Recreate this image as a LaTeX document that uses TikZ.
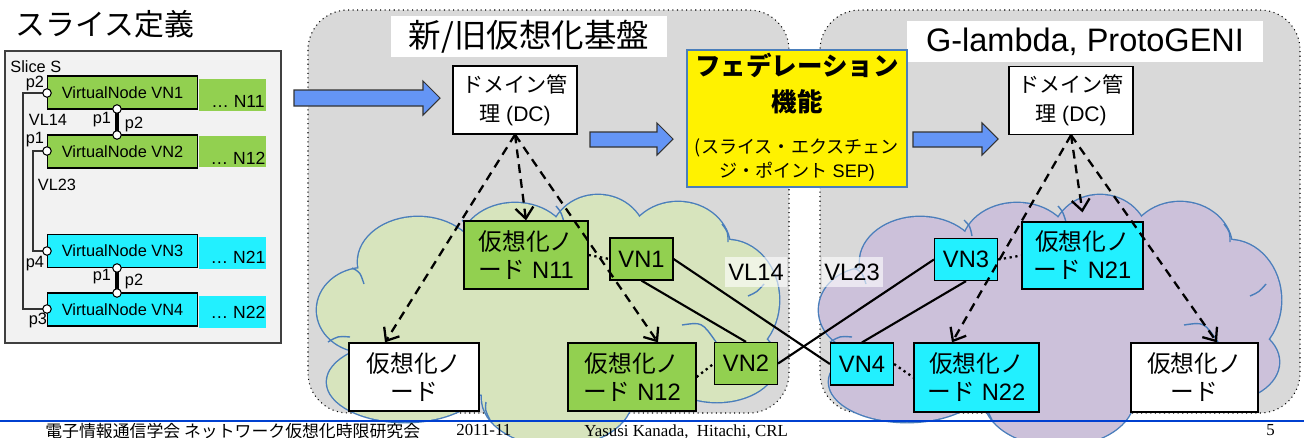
\documentclass[tikz,border=0pt]{standalone}
\usepackage{fontspec}
\setmainfont{Liberation Sans}
\newfontfamily\jp{Noto Sans CJK JP}
\newfontfamily\serif{Liberation Serif}
\usetikzlibrary{arrows.meta, calc}
\definecolor{vgreen}{HTML}{92D050}
\definecolor{vcyan}{HTML}{22F0FF}
\definecolor{cloudgreen}{HTML}{D7E4BD}
\definecolor{cloudpurple}{HTML}{CCC1DA}
\definecolor{cloudline}{HTML}{4A7EBB}
\definecolor{domgray}{HTML}{D9D9D9}
\definecolor{slicegray}{HTML}{F2F2F2}
\definecolor{arrblue}{HTML}{6495F5}
\definecolor{footline}{HTML}{0040D0}

\begin{document}
\begin{tikzpicture}[>=Stealth, x=0.02cm, y=-0.02cm,
	box/.style={draw, line width=0.7pt, align=center, inner sep=0pt, font=\fontsize{13.5}{16}\selectfont},
	vn/.style={box, minimum width=1.26cm, minimum height=0.84cm},
	dc/.style={box, fill=white, minimum width=2.48cm, minimum height=1.36cm, font=\fontsize{12}{16.5}\selectfont},
	slicevn/.style={draw, line width=0.6pt, minimum width=3cm, minimum height=0.66cm, inner sep=0pt, font=\fontsize{9.3}{11}\selectfont},
	small/.style={inner sep=0pt, font=\fontsize{9.3}{11}\selectfont},
	ext/.style={inner sep=0pt, font=\fontsize{10}{12}\selectfont},
	port/.style={circle, draw, fill=white, line width=0.6pt, minimum size=0.17cm, inner sep=0pt},
	bluearr/.style={fill=arrblue, draw=black!80, line width=0.6pt},
	ctrl/.style={line width=1.3pt, dash pattern=on 5pt off 3.5pt, -{Straight Barb[length=2.2mm, width=3.6mm]}},
	dots/.style={line width=1.3pt, dotted},
	vlink/.style={line width=1.2pt},
	domainbox/.style={fill=domgray, draw=black, dotted, rounded corners=0.8cm, line width=0.6pt},
	foot/.style={anchor=north west, inner sep=0pt, font=\fontsize{9.6}{11}\serif},
	ttl/.style={fill=white, inner sep=0pt, minimum height=0.82cm, font=\fontsize{18.5}{20}\selectfont}]
	\useasboundingbox (0,0) rectangle (1304,437);
	\fill[white] (0,0) rectangle (1304,437);

	% スライス定義
	\node[font=\fontsize{17}{20}\jp] (stitle) at (105,24) {スライス定義};
	\draw[fill=slicegray, draw=black!75, line width=0.6pt] (5,51) rectangle (281,343);
	\node[small, anchor=west] (slice) at (10,67) {Slice S};
	\fill[vgreen] (199,79) rectangle (266,111);
	\fill[vgreen] (199,136) rectangle (266,167);
	\fill[vcyan] (199,237) rectangle (266,269);
	\fill[vcyan] (199,296) rectangle (266,328);
	\node[ext] (x11) at (238,101) {… N11};
	\node[ext] (x12) at (238,158) {… N12};
	\node[ext] (x21) at (238,257) {… N21};
	\node[ext] (x22) at (238,312) {… N22};
	\node[slicevn, fill=vgreen] (s1) at (122.5,92.5) {VirtualNode VN1};
	\node[slicevn, fill=vgreen] (s2) at (122.5,151.5) {VirtualNode VN2};
	\node[slicevn, fill=vcyan] (s3) at (122.5,251) {VirtualNode VN3};
	\node[slicevn, fill=vcyan] (s4) at (122.5,309.5) {VirtualNode VN4};
	% ポート
	\draw[line width=0.6pt, black!80] (47,93) -- (23,93) |- (47,309);
	\draw[line width=0.6pt, black!80] (47,151) -- (33,151) |- (47,251);
	\draw[line width=1.8pt] (117,109) -- (117,135);
	\draw[line width=1.8pt] (117,268) -- (117,293);
	\node[port] (s1w) at (47,93) {};
	\node[port] (s1s) at (117,109) {};
	\node[port] (s2n) at (117,135) {};
	\node[port] (s2w) at (47,151) {};
	\node[port] (s3w) at (47,251) {};
	\node[port] (s3s) at (117,268) {};
	\node[port] (s4n) at (117,293) {};
	\node[port] (s4w) at (47,309) {};
	\node[small] (p2a) at (35,83) {p2};
	\node[small] (vl14s) at (48,120) {VL14};
	\node[small] (p1a) at (102,120) {p1};
	\node[small] (p2b) at (134,124) {p2};
	\node[small] (p1b) at (35,140) {p1};
	\node[small] (vl23s) at (57,185) {VL23};
	\node[small] (p4) at (35,264) {p4};
	\node[small] (p1c) at (102,277) {p1};
	\node[small] (p2c) at (134,281) {p2};
	\node[small] (p3) at (38,320) {p3};

	% 仮想化基盤
	\draw[domainbox] (308,10) rectangle (789,413);
	\draw[domainbox] (820,10) rectangle (1300,413);
	% 雲 (左: 0, 右: +502)
	\foreach \dx/\col in {0/cloudgreen, 502/cloudpurple}{
		\begin{scope}[xshift=\dx*0.02cm]
			\foreach \cx/\cy/\rx/\ry in {365/310/48/42, 418/262/60/45, 515/247/55/44, 598/240/48/45, 678/248/52/46, 727/300/52/60, 717/362/60/40, 557/398/75/48, 405/382/78/40, 550/320/190/80}
				\draw[cloudline, line width=1.6pt] (\cx,\cy) ellipse [x radius=\rx, y radius=\ry];
			\foreach \cx/\cy/\rx/\ry in {365/310/48/42, 418/262/60/45, 515/247/55/44, 598/240/48/45, 678/248/52/46, 727/300/52/60, 717/362/60/40, 557/398/75/48, 405/382/78/40, 550/320/190/80}
				\fill[\col] (\cx,\cy) ellipse [x radius=\rx, y radius=\ry];
			\draw[cloudline, line width=0.8pt] (352,268) .. controls (360,272) .. (364,284);
			\draw[cloudline, line width=0.8pt] (462,220) .. controls (468,226) .. (470,236);
			\draw[cloudline, line width=0.8pt] (556,206) .. controls (561,212) .. (564,222);
			\draw[cloudline, line width=0.8pt] (722,224) .. controls (728,232) .. (728,242);
			\draw[cloudline, line width=0.8pt] (764,284) .. controls (757,292) .. (748,296);
			\draw[cloudline, line width=0.8pt] (682,325) .. controls (702,322) .. (716,342);
			\draw[cloudline, line width=0.8pt] (486,402) .. controls (485,410) .. (490,420);
			\draw[cloudline, line width=0.8pt] (328,342) .. controls (338,336) .. (350,337);
		\end{scope}
	}
	% フッタ
	\draw[footline, line width=1.4pt] (0,421) -- (1304,421);
	\node[foot, font=\fontsize{9.6}{11}\jp] (ft1) at (45,423) {電子情報通信学会 ネットワーク仮想化時限研究会};
	\node[foot] (ft2) at (456,424) {2011-11};
	\node[foot] (ft3) at (584,424) {Yasusi Kanada,\ \ Hitachi, CRL};
	\node[foot] (ft4) at (1266,424) {5};

	\node[ttl, minimum width=5.52cm] (tl) at (529,36.5) {\jp 新/旧仮想化基盤};
	\node[ttl, minimum width=7.12cm] (tr) at (1085,41.5) {G-lambda, ProtoGENI};

	% 矢印
	\draw[bluearr] (294,90) -- (423,90) -- (423,81) -- (440,98) -- (423,115) -- (423,106) -- (294,106) -- cycle;
	\draw[bluearr] (590,132) -- (657,132) -- (657,123) -- (673,139) -- (657,155) -- (657,147) -- (590,147) -- cycle;
	\draw[bluearr] (913,132) -- (982,132) -- (982,123) -- (998,139) -- (982,155) -- (982,147) -- (913,147) -- cycle;

	\node[dc] (dcl) at (515,100) {{\jp ドメイン管}\\{\jp 理} (DC)};
	\node[dc] (dcr) at (1071,100.5) {{\jp ドメイン管}\\{\jp 理} (DC)};
	\node[draw=cloudline, fill=yellow, line width=0.8pt, minimum width=4.4cm, minimum height=2.74cm] (fed) at (797,118.5) {};
	\node[font=\fontsize{14.5}{21}\jp\bfseries, align=center, inner sep=0pt] (fedt) at (797,83.5) {フェデレーション\\機能};
	\node[font=\fontsize{10.3}{13.7}\selectfont, align=center, inner sep=0pt] (sep) at (797,160) {{\jp (スライス・エクスチェン}\\{\jp ジ・ポイント} SEP)};

	% 仮想化ノード
	\node[box, fill=vgreen, minimum width=2.48cm, minimum height=1.36cm] (n11) at (526,255) {{\jp 仮想化ノ}\\{\jp ード} N11};
	\node[vn, fill=vgreen] (vn1) at (641.5,259) {VN1};
	\node[box, fill=white, minimum width=2.6cm, minimum height=1.36cm] (wl) at (414,377) {{\jp 仮想化ノ}\\{\jp ード}};
	\node[box, fill=vgreen, minimum width=2.56cm, minimum height=1.36cm] (n12) at (632,377) {{\jp 仮想化ノ}\\{\jp ード} N12};
	\node[vn, fill=vgreen] (vn2) at (746,363.5) {VN2};
	\node[vn, fill=vcyan] (vn3) at (966,259.5) {VN3};
	\node[box, fill=vcyan, minimum width=2.42cm, minimum height=1.34cm] (n21) at (1082.5,255.5) {{\jp 仮想化ノ}\\{\jp ード} N21};
	\node[vn, fill=vcyan] (vn4) at (862,364) {VN4};
	\node[box, fill=vcyan, minimum width=2.5cm, minimum height=1.38cm] (n22) at (976.5,377.5) {{\jp 仮想化ノ}\\{\jp ード} N22};
	\node[box, fill=white, minimum width=2.54cm, minimum height=1.38cm] (wr) at (1194.5,377.5) {{\jp 仮想化ノ}\\{\jp ード}};

	% 制御
	\draw[ctrl] (dcl.south) -- ([xshift=-0.58cm]wl.north);
	\draw[ctrl] (dcl.south) -- (n11.north);
	\draw[ctrl] (dcl.south) -- ([xshift=0.52cm]n12.north);
	\draw[ctrl] (dcr.south) -- ([xshift=-0.49cm]n22.north);
	\draw[ctrl] (dcr.south) -- ([yshift=0.18cm]n21.north);
	\draw[ctrl] (dcr.south) -- ([xshift=0.45cm]wr.north);
	\draw[dots] (n11.east) -- (vn1.west);
	\draw[dots] (n12.east) -- (vn2.west);
	\draw[dots] (vn3.east) -- (n21.west);
	\draw[dots] (vn4.east) -- (n22.west);

	% 仮想リンク
	\draw[vlink] (vn1.east) -- (vn4.west);
	\draw[vlink] (vn1.south) -- (vn2.north);
	\draw[vlink] (vn2.east) -- (vn3.west);
	\draw[vlink] (vn3.south) -- (vn4.north);
	\node[fill=white, fill opacity=0.6, text opacity=1, inner sep=0pt, minimum width=1.24cm, minimum height=0.6cm, font=\fontsize{13.5}{16}\selectfont] (vl14) at (756,272) {VL14};
	\node[fill=white, fill opacity=0.6, text opacity=1, inner sep=0pt, minimum width=1.22cm, minimum height=0.6cm, font=\fontsize{13.5}{16}\selectfont] (vl23) at (852,272) {VL23};
\end{tikzpicture}
\end{document}
